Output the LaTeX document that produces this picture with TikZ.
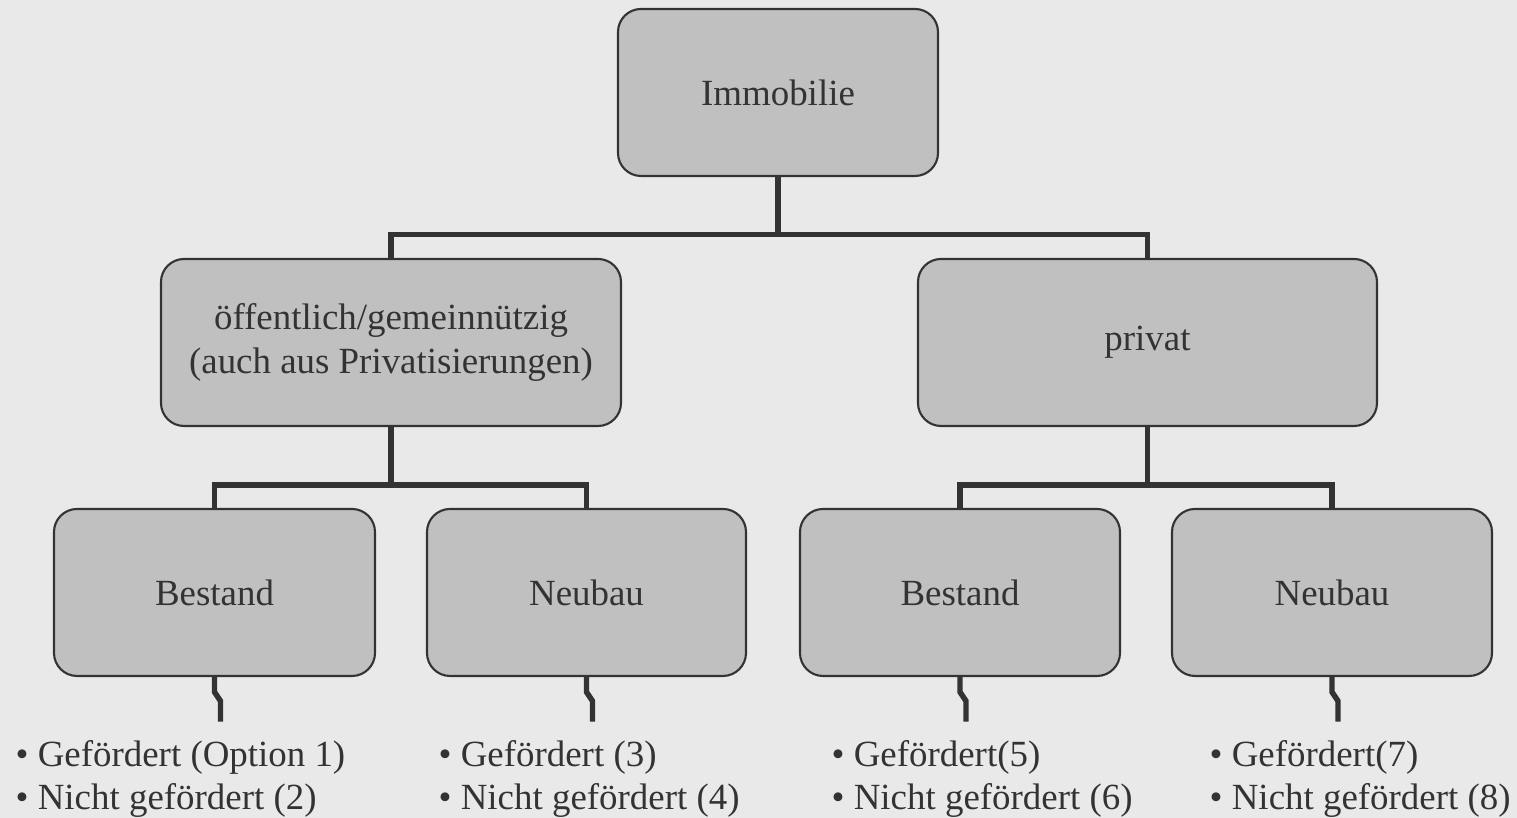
\documentclass[tikz,border=0pt]{standalone}
\usepackage{fontspec}
\setmainfont{Liberation Serif}
\usetikzlibrary{positioning}
\definecolor{hgrund}{HTML}{E9E9E9}
\definecolor{kastgrau}{HTML}{C0C0C0}
\definecolor{linie}{HTML}{333333}
\begin{document}
\begin{tikzpicture}[on grid,node distance=2.5cm,
			kasten/.style={rectangle,rounded corners=0.23cm,draw=linie,fill=kastgrau,line width=0.6pt,minimum height=1.67cm,align=center,text=linie,font=\fontsize{10.5}{12.3}\selectfont},
			verbinder/.style={draw=linie,line width=1.55pt},
			liste/.style={anchor=north west,inner sep=0pt,align=left,text=linie,font=\fontsize{10.5}{12.3}\selectfont}]
			\fill[hgrund] (0,0) rectangle (15.17,8.18);
			\useasboundingbox (0,0) rectangle (15.17,8.18);
			\node[kasten,minimum width=3.2cm](immo) at (7.78,7.255) {Immobilie};
			\node[kasten,minimum width=4.6cm](oeff) at (3.91,4.755) {öffentlich/gemeinnützig\\(auch aus Privatisierungen)};
			\node[kasten,minimum width=4.59cm](priv) at (11.475,4.755) {privat};
			\node[kasten,minimum width=3.21cm](oebest)[below left=2.5cm and 1.765cm of oeff] {Bestand};
			\node[kasten,minimum width=3.19cm](oeneu)[below right=2.5cm and 1.955cm of oeff] {Neubau};
			\node[kasten,minimum width=3.2cm](prbest)[below left=2.5cm and 1.875cm of priv] {Bestand};
			\node[kasten,minimum width=3.2cm](prneu)[below right=2.5cm and 1.845cm of priv] {Neubau};
			\draw[verbinder] (oeff.north) -- ++(0,0.235) coordinate (k1) -| (priv.north);
			\draw[verbinder] (immo.south) -- (immo.south |- k1);
			\draw[verbinder] (oebest.north) -- ++(0,0.23) coordinate (k2) -| (oeneu.north);
			\draw[verbinder] (oeff.south) -- (oeff.south |- k2);
			\draw[verbinder] (prbest.north) -- ++(0,0.23) coordinate (k3) -| (prneu.north);
			\draw[verbinder] (priv.south) -- (priv.south |- k3);
			\foreach \k in {oebest,oeneu,prbest,prneu}
				\draw[verbinder] (\k.south) -- ++(0,-0.15) -- ++(0.06,-0.09) -- ++(0,-0.205) coordinate (\k-ende);
			\node[liste](l1) at (0.15,0.785) {• Gefördert (Option 1)\\• Nicht gefördert (2)};
			\node[liste](l2) at (4.38,0.785) {• Gefördert (3)\\• Nicht gefördert (4)};
			\node[liste](l3) at (8.31,0.785) {• Gefördert(5)\\• Nicht gefördert (6)};
			\node[liste](l4) at (12.09,0.785) {• Gefördert(7)\\• Nicht gefördert (8)};
\end{tikzpicture}
\end{document}
